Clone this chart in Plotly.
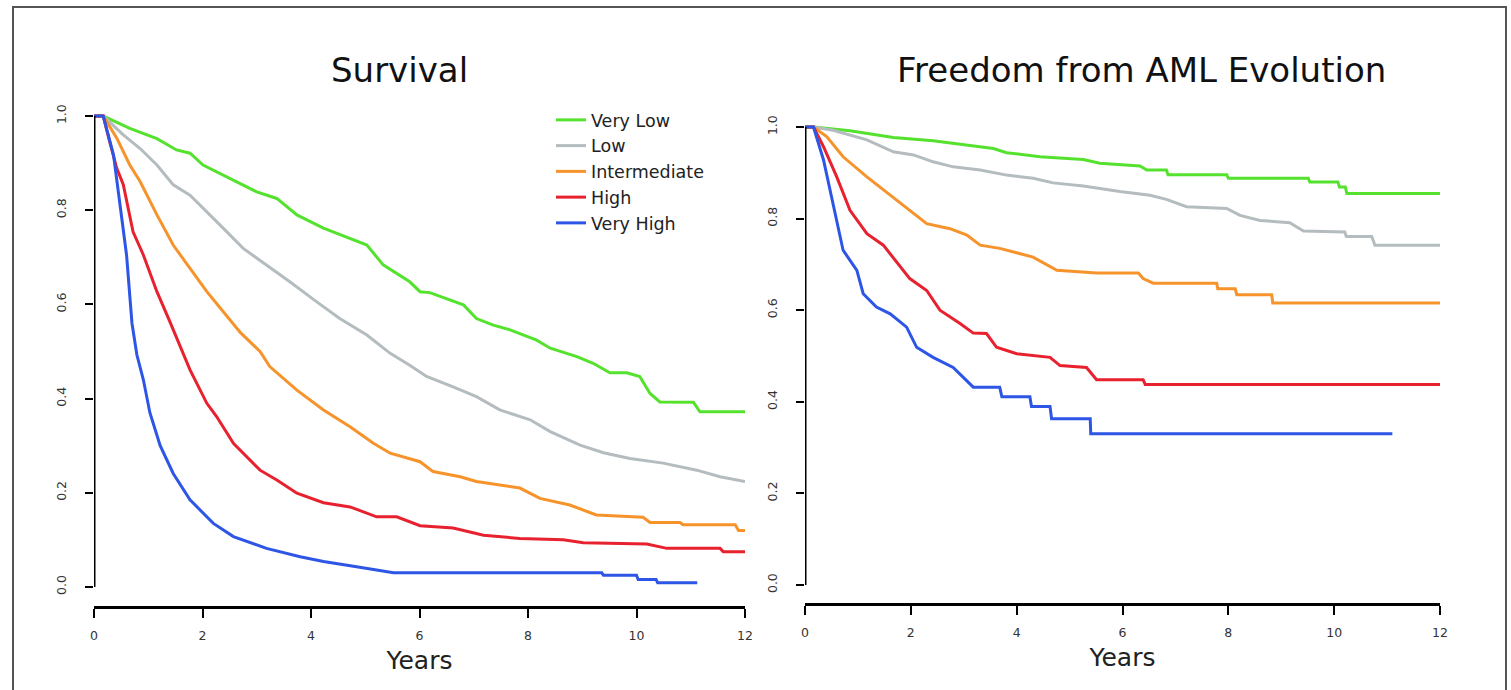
import plotly.graph_objects as go

# ---------------- data ----------------
groups = ["Very Low", "Low", "Intermediate", "High", "Very High"]
colors = ["#55e22e", "#b4bcc0", "#f7932b", "#e8212f", "#2d55e6"]

# Survival (left panel)
surv_vlow_t = [0, 0.17, 0.66, 1.16, 1.52, 1.77, 2.01, 2.51, 3.0, 3.37, 3.74, 4.23, 4.72, 5.03, 5.33, 5.82, 6.01, 6.19, 6.81, 7.05, 7.36, 7.67, 8.16, 8.41, 8.9, 9.2, 9.51, 9.82, 10.06, 10.25, 10.43, 11.05, 11.17, 12.0]
surv_vlow_s = [1, 1, 0.974, 0.952, 0.928, 0.921, 0.896, 0.868, 0.839, 0.825, 0.79, 0.762, 0.74, 0.726, 0.684, 0.648, 0.627, 0.625, 0.599, 0.57, 0.556, 0.546, 0.524, 0.507, 0.489, 0.475, 0.455, 0.455, 0.447, 0.411, 0.393, 0.392, 0.372, 0.372]

surv_low_t = [0, 0.17, 0.54, 0.85, 1.16, 1.46, 1.77, 2.08, 2.38, 2.75, 3.18, 3.61, 4.1, 4.53, 5.03, 5.46, 5.82, 6.13, 6.62, 7.05, 7.48, 8.04, 8.41, 8.96, 9.39, 9.88, 10.49, 11.11, 11.54, 12.0]
surv_low_s = [1, 1, 0.96, 0.931, 0.896, 0.854, 0.832, 0.797, 0.762, 0.719, 0.684, 0.648, 0.606, 0.57, 0.535, 0.496, 0.471, 0.447, 0.425, 0.404, 0.376, 0.355, 0.33, 0.301, 0.285, 0.273, 0.263, 0.248, 0.234, 0.224]

surv_int_t = [0, 0.17, 0.42, 0.66, 0.85, 1.16, 1.46, 1.77, 2.08, 2.38, 2.7, 3.06, 3.24, 3.74, 4.23, 4.72, 5.15, 5.46, 5.82, 6.01, 6.25, 6.75, 7.05, 7.85, 8.22, 8.77, 9.26, 10.12, 10.25, 10.8, 10.86, 11.82, 11.88, 12.0]
surv_int_s = [1, 1, 0.953, 0.896, 0.861, 0.79, 0.726, 0.677, 0.627, 0.585, 0.54, 0.5, 0.468, 0.418, 0.376, 0.34, 0.305, 0.284, 0.273, 0.266, 0.245, 0.234, 0.224, 0.21, 0.188, 0.174, 0.153, 0.148, 0.137, 0.137, 0.132, 0.132, 0.12, 0.12]

surv_high_t = [0, 0.17, 0.29, 0.42, 0.54, 0.72, 0.91, 1.16, 1.4, 1.55, 1.77, 2.08, 2.26, 2.57, 3.06, 3.37, 3.74, 4.23, 4.72, 5.21, 5.58, 6.01, 6.62, 7.18, 7.85, 8.65, 9.02, 10.19, 10.56, 11.54, 11.6, 12.0]
surv_high_s = [1, 1, 0.945, 0.889, 0.854, 0.754, 0.705, 0.627, 0.563, 0.52, 0.461, 0.39, 0.362, 0.305, 0.248, 0.227, 0.199, 0.179, 0.17, 0.149, 0.149, 0.13, 0.125, 0.11, 0.103, 0.1, 0.094, 0.091, 0.082, 0.082, 0.075, 0.075]

surv_vhigh_t = [0, 0.17, 0.36, 0.48, 0.6, 0.7, 0.79, 0.91, 1.03, 1.22, 1.46, 1.77, 2.2, 2.57, 3.18, 3.8, 4.23, 4.84, 5.52, 9.36, 9.39, 10.0, 10.03, 10.36, 10.39, 11.12]
surv_vhigh_s = [1, 1, 0.917, 0.811, 0.705, 0.56, 0.493, 0.44, 0.37, 0.3, 0.241, 0.185, 0.135, 0.107, 0.082, 0.064, 0.054, 0.043, 0.03, 0.03, 0.025, 0.025, 0.016, 0.016, 0.009, 0.009]

# Freedom from AML evolution (right panel)
aml_vlow_t = [0, 0.16, 0.85, 1.67, 2.42, 3.06, 3.56, 3.81, 4.44, 5.26, 5.57, 6.33, 6.46, 6.83, 6.86, 7.97, 8.0, 9.51, 9.54, 10.07, 10.1, 10.21, 10.24, 12]
aml_vlow_s = [1, 1, 0.992, 0.977, 0.97, 0.961, 0.953, 0.944, 0.935, 0.929, 0.921, 0.915, 0.906, 0.906, 0.896, 0.896, 0.888, 0.888, 0.88, 0.88, 0.869, 0.869, 0.855, 0.855]

aml_low_t = [0, 0.16, 0.53, 1.17, 1.67, 2.05, 2.42, 2.8, 3.31, 3.81, 4.31, 4.69, 5.26, 5.95, 6.52, 6.83, 7.21, 7.97, 8.22, 8.6, 9.16, 9.42, 10.2, 10.23, 10.71, 10.77, 12]
aml_low_s = [1, 1, 0.993, 0.972, 0.946, 0.939, 0.924, 0.913, 0.906, 0.895, 0.888, 0.878, 0.871, 0.859, 0.851, 0.842, 0.826, 0.822, 0.807, 0.796, 0.791, 0.773, 0.771, 0.761, 0.761, 0.742, 0.742]

aml_int_t = [0, 0.16, 0.41, 0.72, 1.17, 1.61, 1.98, 2.3, 2.74, 3.06, 3.31, 3.68, 4.31, 4.76, 5.51, 6.3, 6.39, 6.58, 7.78, 7.8, 8.13, 8.16, 8.82, 8.84, 12]
aml_int_s = [1, 1, 0.979, 0.935, 0.891, 0.851, 0.818, 0.789, 0.778, 0.764, 0.742, 0.735, 0.716, 0.687, 0.681, 0.681, 0.669, 0.659, 0.659, 0.647, 0.647, 0.634, 0.634, 0.616, 0.616]

aml_high_t = [0, 0.16, 0.35, 0.6, 0.85, 1.17, 1.48, 1.8, 1.98, 2.3, 2.55, 2.93, 3.18, 3.43, 3.62, 4.0, 4.63, 4.82, 5.32, 5.51, 6.39, 6.43, 12]
aml_high_s = [1, 1, 0.957, 0.891, 0.818, 0.767, 0.742, 0.694, 0.669, 0.643, 0.6, 0.571, 0.55, 0.549, 0.519, 0.505, 0.497, 0.479, 0.475, 0.448, 0.448, 0.438, 0.438]

aml_vhigh_t = [0, 0.16, 0.35, 0.53, 0.72, 0.98, 1.1, 1.35, 1.61, 1.92, 2.11, 2.42, 2.8, 3.18, 3.68, 3.72, 4.25, 4.28, 4.63, 4.66, 5.39, 5.4, 11.1]
aml_vhigh_s = [1, 1, 0.928, 0.833, 0.731, 0.687, 0.636, 0.607, 0.592, 0.563, 0.519, 0.497, 0.475, 0.432, 0.432, 0.411, 0.411, 0.39, 0.39, 0.363, 0.363, 0.33, 0.33]

x_ticks = [0, 2, 4, 6, 8, 10, 12]
y_ticks = [0.0, 0.2, 0.4, 0.6, 0.8, 1.0]
titles = ["Survival", "Freedom from AML Evolution"]
x_title = "Years"

surv = [(surv_vlow_t, surv_vlow_s), (surv_low_t, surv_low_s), (surv_int_t, surv_int_s),
        (surv_high_t, surv_high_s), (surv_vhigh_t, surv_vhigh_s)]
aml = [(aml_vlow_t, aml_vlow_s), (aml_low_t, aml_low_s), (aml_int_t, aml_int_s),
       (aml_high_t, aml_high_s), (aml_vhigh_t, aml_vhigh_s)]

# ---------------- figure ----------------
W, H = 1511, 690
FONT = "DejaVu Sans"

fig = go.Figure()
for name, col, (t, s) in zip(groups, colors, surv):
    fig.add_trace(go.Scatter(x=t, y=s, mode="lines", name=name,
                             line=dict(color=col, width=3), xaxis="x", yaxis="y",
                             showlegend=True))
for name, col, (t, s) in zip(groups, colors, aml):
    fig.add_trace(go.Scatter(x=t, y=s, mode="lines", name=name,
                             line=dict(color=col, width=3), xaxis="x2", yaxis="y2",
                             showlegend=False))


def px_x(p):
    return p / W


def px_y(p):
    return (H - p) / H


tick_font = dict(family=FONT, size=12.5, color="#333333")

xa = dict(range=[0, 12], tickvals=x_ticks, ticks="outside", ticklen=9, tickwidth=2,
          tickcolor="black", showline=True, linewidth=3, linecolor="black",
          showgrid=False, zeroline=False, tickfont=tick_font, ticklabelstandoff=7,
          automargin=False,
          title=dict(text=x_title, font=dict(family=FONT, size=25, color="#222222"), standoff=10))
ya = dict(range=[-0.04, 1.04], tickvals=y_ticks, tickformat=".1f", ticks="outside",
          ticklen=8, tickwidth=2, tickcolor="black", showline=False, showgrid=False,
          zeroline=False, tickangle=-90, tickfont=tick_font, ticklabelstandoff=14,
          automargin=False)

fig.update_layout(
    template="none",
    width=W, height=H, autosize=False,
    margin=dict(l=0, r=0, t=0, b=0, pad=0, autoexpand=False),
    paper_bgcolor="white", plot_bgcolor="white",
    xaxis=dict(xa, domain=[px_x(94), px_x(745)], anchor="y"),
    yaxis=dict(ya, domain=[px_y(605.8), px_y(97.2)], anchor="x"),
    xaxis2=dict(xa, domain=[px_x(805), px_x(1440)], anchor="y2"),
    yaxis2=dict(ya, domain=[px_y(603.3), px_y(108.7)], anchor="x2"),
    legend=dict(x=px_x(551), y=px_y(102), xanchor="left", yanchor="top",
                font=dict(family=FONT, size=17.5, color="#222222"),
                bgcolor="rgba(0,0,0,0)", borderwidth=0, tracegroupgap=0,
                itemclick=False),
    showlegend=True,
)

# titles
fig.add_annotation(text=titles[0], x=px_x(399), y=px_y(70), xref="paper", yref="paper",
                   xanchor="center", yanchor="middle", showarrow=False,
                   font=dict(family=FONT, size=34, color="#111111"))
fig.add_annotation(text=titles[1], x=px_x(1141), y=px_y(70), xref="paper", yref="paper",
                   xanchor="center", yanchor="middle", showarrow=False,
                   font=dict(family=FONT, size=34, color="#111111"))

# y axis lines spanning only the tick range (R style)
for xr, yr in (("x", "y"), ("x2", "y2")):
    fig.add_shape(type="line", xref=xr, yref=yr, x0=0, x1=0, y0=0, y1=1,
                  line=dict(color="black", width=3))

# outer frame (bottom edge lies below the visible area)
fig.add_shape(type="rect", xref="paper", yref="paper",
              x0=px_x(13), x1=px_x(1506), y0=-0.05, y1=px_y(7),
              line=dict(color="#555555", width=2), fillcolor="rgba(0,0,0,0)")

fig.write_html(
    "out.html",
    config={"responsive": False, "displayModeBar": False},
    post_script="document.body.style.margin='0';document.body.style.overflow='hidden';",
)
